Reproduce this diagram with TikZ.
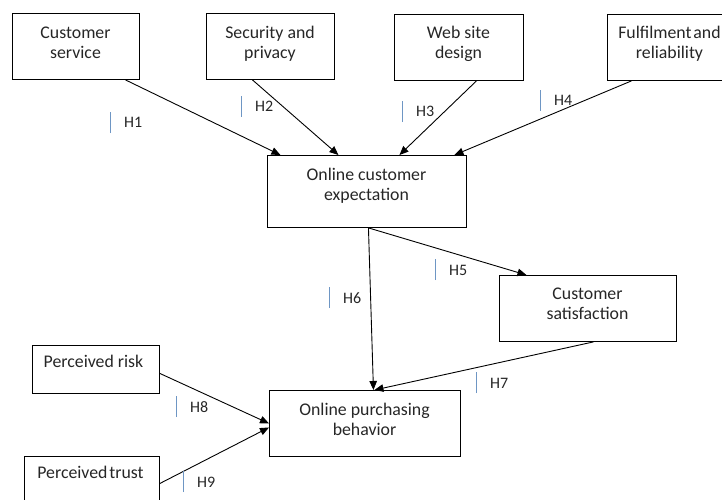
\documentclass[tikz,border=0pt]{standalone}
\usepackage{fontspec}
\setmainfont{Carlito}
\usetikzlibrary{arrows.meta}
\definecolor{txt}{RGB}{38,38,38}
\definecolor{barblue}{RGB}{110,150,196}
\tikzset{
  box/.style={draw=black, line width=0.9pt, inner sep=0pt, anchor=north west},
  lbl/.style={anchor=north, inner sep=0pt, align=center, text=txt, font=\fontsize{17.8}{20.5}\selectfont},
  arr/.style={draw=black, line width=0.9pt, -{Triangle[length=9pt,width=7.5pt]}},
  hbar/.style={draw=barblue, line width=0.9pt},
  hlab/.style={anchor=base west, inner sep=0pt, text=txt, font=\fontsize{16}{19}\selectfont,
    append after command={([xshift=-13.5pt,yshift=-5pt]\tikzlastnode.base west) edge[hbar] ([xshift=-13.5pt,yshift=16pt]\tikzlastnode.base west)}},
}
\newcommand{\st}{\rule{0pt}{13pt}}
\begin{document}
\begin{tikzpicture}[x=1pt,y=-1pt]
\useasboundingbox (0,0) rectangle (722,500);
\clip (0,0) rectangle (722,500);
% boxes
\node[box, minimum width=127pt, minimum height=66pt] (cs) at (12,13) {};
\node[box, minimum width=128pt, minimum height=66pt] (sp) at (206,13) {};
\node[box, minimum width=129pt, minimum height=66pt] (wd) at (394,14) {};
\node[box, minimum width=125pt, minimum height=66pt] (fr) at (607,14) {};
\node[box, minimum width=199pt, minimum height=72pt] (oce) at (267,155) {};
\node[box, minimum width=177pt, minimum height=66pt] (csat) at (499,275) {};
\node[box, minimum width=191pt, minimum height=66pt] (opb) at (269,390) {};
\node[box, minimum width=127pt, minimum height=48pt] (pr) at (32,345) {};
\node[box, minimum width=135pt, minimum height=54pt] (pt) at (24,456) {};
% texts
\node[lbl] (cs-t) at (75.5,25) {\st Customer\\service};
\node[lbl] (sp-t) at (270,25) {\st Security and\\privacy};
\node[lbl] (wd-t) at (458.5,25) {\st Web site\\design};
\node[lbl] (fr-t) at (669.5,25) {\st Fulfilment\hspace{-0.12em} and\\reliability};
\node[lbl] (oce-t) at (366.5,167) {\st Online customer\\expectation};
\node[lbl] (csat-t) at (587.5,286) {\st Customer\\satisfaction};
\node[lbl] (opb-t) at (364.5,402) {\st Online purchasing\\behavior};
\node[lbl] (pr-t) at (93.5,354) {\st Perceived risk};
\node[lbl] (pt-t) at (90.5,465) {\st Perceived\hspace{-0.12em} trust};
% arrows
\draw[arr] ([xshift=49.5pt]cs.south) -- ([xshift=-86.5pt]oce.north);
\draw[arr] ([xshift=-18pt]sp.south) -- ([xshift=-28.5pt]oce.north);
\draw[arr] ([xshift=17.5pt]wd.south) -- ([xshift=32.5pt]oce.north);
\draw[arr] ([xshift=-38.5pt]fr.south) -- ([xshift=87.5pt]oce.north);
\draw[arr] ([xshift=1.5pt]oce.south) -- ([xshift=-61.5pt]csat.north);
\draw[arr] ([xshift=1.5pt]oce.south) -- ([xshift=8.5pt]opb.north);
\draw[arr] ([xshift=5.5pt]csat.south) -- ([xshift=9.5pt]opb.north);
\draw[arr] ([yshift=-4pt]pr.east) -- (opb.west);
\draw[arr] (pt.east) -- ([yshift=-4pt]opb.west);
% hypothesis labels
\node[hlab] (h1) at (124,128) {H1};
\node[hlab] (h2) at (255,112) {H2};
\node[hlab] (h3) at (416,117) {H3};
\node[hlab] (h4) at (554,106) {H4};
\node[hlab] (h5) at (449,275) {H5};
\node[hlab] (h6) at (343,303) {H6};
\node[hlab] (h7) at (490,388) {H7};
\node[hlab] (h8) at (190,412) {H8};
\node[hlab] (h9) at (197,487) {H9};
\end{tikzpicture}
\end{document}
